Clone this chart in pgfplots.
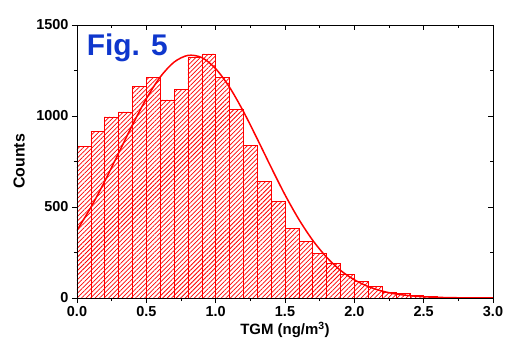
\documentclass[border=0pt]{standalone}
\usepackage{pgfplots}
\pgfplotsset{compat=1.18}
\usetikzlibrary{patterns,patterns.meta}
\usepackage{fontspec}
\setmainfont{Liberation Sans}
\definecolor{figblue}{RGB}{15,55,205}
\begin{document}
\begin{tikzpicture}
\begin{axis}[
  at={(0,0)}, anchor=south west,
  scale only axis, width=416bp, height=273bp,
  xmin=0, xmax=3, ymin=0, ymax=1500,
  xtick={0,0.5,1,1.5,2,2.5,3}, minor x tick num=1,
  ytick={0,500,1000,1500}, minor y tick num=1,
  xtick pos=left, ytick pos=left,
  tick align=outside,
  major tick length=5bp, minor tick length=3bp,
  axis line style={line width=0.9pt},
  every tick/.style={black, line width=0.9pt},
  /pgf/number format/assume math mode=true,
  /pgf/number format/1000 sep={},
  xticklabel style={/pgf/number format/fixed, /pgf/number format/fixed zerofill, /pgf/number format/precision=1},
  tick label style={font=\bfseries\fontsize{14.5}{14.5}\selectfont},
  xlabel={TGM (ng/m\textsuperscript{3})},
  ylabel={Counts},
  xlabel style={font=\bfseries\fontsize{15}{15}\selectfont, at={(axis description cs:0.5,-0.117)}, anchor=center},
  ylabel style={font=\bfseries\fontsize{16}{16}\selectfont, at={(axis description cs:-0.139,0.5)}, anchor=center},
  clip=true,
]
\addplot[ybar interval, draw=red, line width=0.6pt, pattern={Lines[angle=45, distance=3.2pt, line width=0.75pt]}, pattern color=red] coordinates {
(0.0,835) (0.1,917) (0.2,995) (0.3,1022) (0.4,1163) (0.5,1212) (0.6,1088) (0.7,1148)
(0.8,1322) (0.9,1341) (1.0,1214) (1.1,1037) (1.2,837) (1.3,641) (1.4,531) (1.5,381)
(1.6,311) (1.7,244) (1.8,190) (1.9,130) (2.0,93) (2.1,62) (2.2,31) (2.3,26)
(2.4,16) (2.5,9) (2.6,4) (2.7,3) (2.8,2) (2.9,1) (3.0,0)
};
\addplot[red, line width=1.5pt, smooth] coordinates {
(0.0,372) (0.1,498) (0.2,641) (0.3,796) (0.4,951) (0.5,1095) (0.6,1214) (0.7,1296)
(0.8,1333) (0.9,1321) (1.0,1260) (1.1,1158) (1.2,1025) (1.3,874) (1.4,718) (1.5,567)
(1.6,432) (1.7,317) (1.8,224) (1.9,152) (2.0,100) (2.1,63) (2.2,38) (2.3,22)
(2.4,12.7) (2.5,6.9) (2.6,3.6) (2.7,1.8) (2.8,0.9) (2.9,0.4) (3.0,0.2)
};
\node[anchor=base west, inner sep=0pt, text=figblue, font=\bfseries\fontsize{30}{30}\selectfont] at (axis cs:0.07,1335) {Fig. 5};
\end{axis}
\begin{axis}[
  at={(0,0)}, anchor=south west,
  scale only axis, width=416bp, height=273bp,
  xmin=0, xmax=3, ymin=0, ymax=1500,
  xtick={0,0.5,1,1.5,2,2.5,3}, minor x tick num=1,
  ytick={0,500,1000,1500}, minor y tick num=1,
  xtick pos=right, ytick pos=right,
  tick align=inside,
  xticklabels={}, yticklabels={},
  major tick length=5bp, minor tick length=3bp,
  axis line style={line width=0.9pt},
  every tick/.style={black, line width=0.9pt},
]
\end{axis}
\pgfresetboundingbox
\path (-77bp,-41bp) rectangle (431bp,298bp);
\end{tikzpicture}
\end{document}
